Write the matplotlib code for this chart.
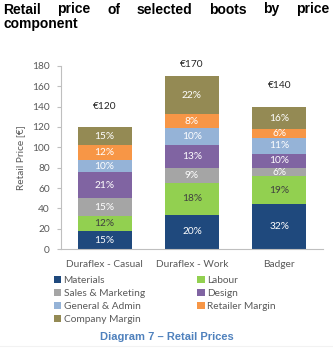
import numpy as np
import matplotlib
matplotlib.use('Agg')
import matplotlib.pyplot as plt
from matplotlib.patches import Patch

# data
products = ['Duraflex - Casual', 'Duraflex - Work', 'Badger']
totals = [120, 170, 140]
components = ['Materials', 'Labour', 'Sales & Marketing', 'Design',
              'General & Admin', 'Retailer Margin', 'Company Margin']
shares = {
    'Materials':         [15, 20, 32],
    'Labour':            [12, 18, 19],
    'Sales & Marketing': [15, 9, 6],
    'Design':            [21, 13, 10],
    'General & Admin':   [10, 10, 11],
    'Retailer Margin':   [12, 8, 6],
    'Company Margin':    [15, 22, 16],
}
total_labels = ['€120', '€170', '€140']
yticks = [0, 20, 40, 60, 80, 100, 120, 140, 160, 180]

colors = {
    'Materials': '#1F497D',
    'Labour': '#92D050',
    'Sales & Marketing': '#A5A5A5',
    'Design': '#8064A2',
    'General & Admin': '#95B3D7',
    'Retailer Margin': '#F79646',
    'Company Margin': '#948A54',
}
label_colors = {'Labour': '#404040'}
label_offsets = [20, 12, 21]  # px above bar top for total labels

lab_font = 'Lato'
gray = '#595959'
fs = 7.3

fig = plt.figure(figsize=(3.33, 3.54), dpi=100)
ax = fig.add_axes([0.183, 0.296, 0.787, 0.518])

x = np.arange(len(products))
bottom = np.zeros(len(products))
for comp in components:
    vals = np.array(totals) * np.array(shares[comp]) / 100.0
    ax.bar(x, vals, bottom=bottom, width=0.62, color=colors[comp], label=comp)
    for i, v in enumerate(vals):
        ax.text(x[i], bottom[i] + v / 2, f'{shares[comp][i]}%', ha='center', va='center',
                fontsize=fs, family=lab_font, color=label_colors.get(comp, 'white'))
    bottom += vals

for i, t in enumerate(totals):
    ax.annotate(total_labels[i], (x[i], t), xytext=(0, label_offsets[i] * 0.72),
                textcoords='offset points', ha='center', va='center',
                fontsize=fs, family=lab_font, color='#262626', annotation_clip=False)

ax.set_xlim(-0.5, 2.5)
ax.set_ylim(0, 180)
ax.set_yticks(yticks)
ax.set_xticks(x)
ax.set_xticklabels(products)
for lbl in ax.get_xticklabels() + ax.get_yticklabels():
    lbl.set_family(lab_font)
    lbl.set_fontsize(fs)
    lbl.set_color(gray)
ax.tick_params(axis='x', length=0, pad=8)
ax.tick_params(axis='y', length=3, width=0.8, color='#BFBFBF', pad=5)
for s in ['top', 'right']:
    ax.spines[s].set_visible(False)
for s in ['left', 'bottom']:
    ax.spines[s].set_color('#BFBFBF')
    ax.spines[s].set_linewidth(0.8)
ax.set_ylabel('Retail Price [€]', family=lab_font, fontsize=fs, color=gray, labelpad=5)

# legend, row-wise order
order = ['Materials', 'Sales & Marketing', 'General & Admin', 'Company Margin',
         'Labour', 'Design', 'Retailer Margin']
handles = [Patch(facecolor=colors[c]) for c in order]
fig.legend(handles, order, loc='upper left', bbox_to_anchor=(0.162, 1 - 276 / 354),
           ncol=2, frameon=False, prop={'family': lab_font, 'size': fs},
           labelcolor=gray, handlelength=0.7, handleheight=0.7, handletextpad=0.25,
           columnspacing=5.2, labelspacing=0.38, borderaxespad=0, borderpad=0)

# justified title
tfs = 10
fig.text(3 / 333, 1 - 28 / 354, 'component', fontsize=tfs, fontweight='bold',
         family='Liberation Sans', va='baseline')
words = ['Retail', 'price', 'of', 'selected', 'boots', 'by', 'price']
fig.canvas.draw()
r = fig.canvas.get_renderer()
tmp = [fig.text(0, 0, w, fontsize=tfs, fontweight='bold', family='Liberation Sans') for w in words]
widths = [t.get_window_extent(r).width for t in tmp]
for t in tmp:
    t.remove()
x0, x1 = 3, 329
gap = (x1 - x0 - sum(widths)) / (len(words) - 1)
pos = x0
for w, wd in zip(words, widths):
    fig.text(pos / 333, 1 - 13.5 / 354, w, fontsize=tfs, fontweight='bold',
             family='Liberation Sans', va='baseline')
    pos += wd + gap

fig.text(167 / 333, 1 - 337 / 354, 'Diagram 7 – Retail Prices', ha='center', va='center',
         fontsize=8.0, fontweight='bold', family='Liberation Sans', color='#4F81BD')
fig.add_artist(plt.Line2D([0, 1], [1 - 346 / 354] * 2, color='#F2F2F2', lw=0.8))

fig.savefig('out.png', dpi=100)
